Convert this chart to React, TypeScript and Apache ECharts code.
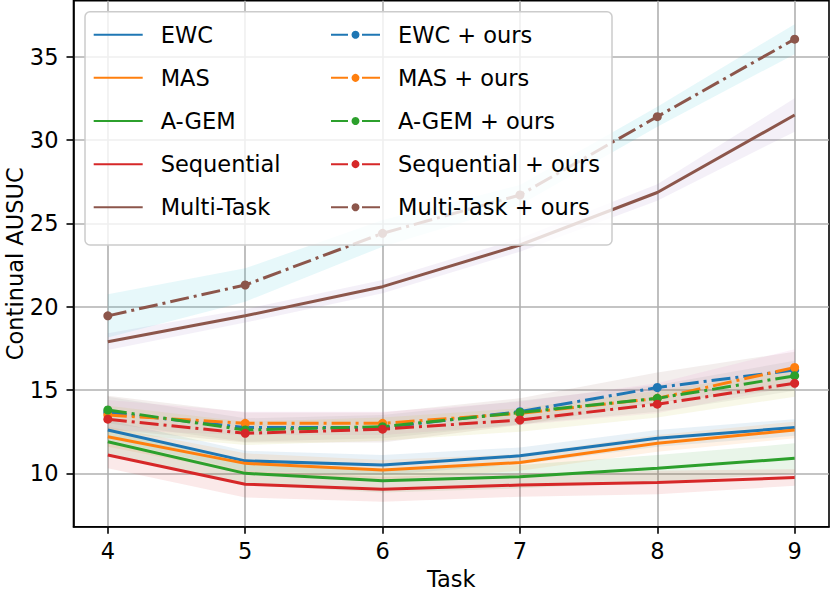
import React, { useEffect, useRef } from "react";
import * as echarts from "echarts";

const tasks = [4, 5, 6, 7, 8, 9];
const xTicks = [4, 5, 6, 7, 8, 9];
const yTicks = [10, 15, 20, 25, 30, 35];

const ewc = [12.6, 10.75, 10.5, 11.05, 12.1, 12.75];
const ewcStd = [0.6, 0.6, 0.6, 0.5, 0.5, 0.5];
const mas = [12.2, 10.6, 10.2, 10.65, 11.8, 12.6];
const masStd = [0.6, 0.6, 0.6, 0.5, 0.5, 0.5];
const agem = [11.9, 10.0, 9.55, 9.8, 10.3, 10.9];
const agemStd = [0.7, 0.7, 0.7, 0.7, 0.8, 0.9];
const seq = [11.1, 9.35, 9.05, 9.3, 9.45, 9.75];
const seqStd = [0.8, 0.8, 0.75, 0.7, 0.7, 0.5];
const multi = [17.9, 19.45, 21.2, 23.7, 26.85, 31.5];
const multiStd = [0.5, 0.4, 0.4, 0.4, 0.5, 1.0];
const ewcOurs = [13.65, 12.75, 12.75, 13.7, 15.15, 16.2];
const ewcOursStd = [1.0, 0.9, 0.9, 0.8, 0.9, 1.1];
const masOurs = [13.5, 13.0, 13.0, 13.6, 14.5, 16.35];
const masOursStd = [0.9, 0.7, 0.7, 0.7, 0.9, 1.1];
const agemOurs = [13.8, 12.6, 12.8, 13.65, 14.5, 15.85];
const agemOursStd = [0.8, 0.7, 0.7, 0.7, 0.8, 0.9];
const seqOurs = [13.25, 12.4, 12.65, 13.2, 14.15, 15.4];
const seqOursStd = [0.8, 0.7, 0.7, 0.7, 0.8, 0.8];
const multiOurs = [19.45, 21.3, 24.4, 26.7, 31.4, 36.05];
const multiOursStd = [1.3, 1.0, 0.8, 0.6, 0.6, 0.9];

const methods = [
  { name: "EWC", mean: ewc, std: ewcStd, color: "#1f77b4", fill: "#1f77b4", dashed: false },
  { name: "MAS", mean: mas, std: masStd, color: "#ff7f0e", fill: "#ff7f0e", dashed: false },
  { name: "A-GEM", mean: agem, std: agemStd, color: "#2ca02c", fill: "#2ca02c", dashed: false },
  { name: "Sequential", mean: seq, std: seqStd, color: "#d62728", fill: "#d62728", dashed: false },
  { name: "Multi-Task", mean: multi, std: multiStd, color: "#8c564b", fill: "#9467bd", dashed: false },
  { name: "EWC + ours", mean: ewcOurs, std: ewcOursStd, color: "#1f77b4", fill: "#8c564b", dashed: true },
  { name: "MAS + ours", mean: masOurs, std: masOursStd, color: "#ff7f0e", fill: "#e377c2", dashed: true },
  { name: "A-GEM + ours", mean: agemOurs, std: agemOursStd, color: "#2ca02c", fill: "#7f7f7f", dashed: true },
  { name: "Sequential + ours", mean: seqOurs, std: seqOursStd, color: "#d62728", fill: "#bcbd22", dashed: true },
  { name: "Multi-Task + ours", mean: multiOurs, std: multiOursStd, color: "#8c564b", fill: "#17becf", dashed: true },
];

const FONT = "DejaVu Sans";
const FS = 22.5;

export default function App() {
  const ref = useRef<HTMLDivElement>(null);
  useEffect(() => {
    if (!ref.current) return;
    const chart = echarts.init(ref.current, null, { renderer: "svg" });
    const bandSeries = methods.map((m, k) => {
      const lo = tasks.map((t, i) => m.mean[i] - m.std[i]);
      const hi = tasks.map((t, i) => m.mean[i] + m.std[i]);
      return {
        name: "_band" + k,
        type: "custom",
        silent: true,
        z: 1,
        data: tasks.map((t, i) => [t, lo[i], hi[i]]),
        encode: { x: 0, y: [1, 2] },
        renderItem: (params: any, api: any) => {
          if (params.dataIndex !== 0) return null;
          const pts: number[][] = [];
          for (let i = 0; i < tasks.length; i++) pts.push(api.coord([tasks[i], hi[i]]));
          for (let i = tasks.length - 1; i >= 0; i--) pts.push(api.coord([tasks[i], lo[i]]));
          return {
            type: "polygon",
            shape: { points: pts },
            style: { fill: m.fill, opacity: 0.1, stroke: null },
          };
        },
      };
    });
    const lineSeries = methods.map((m) => ({
      name: m.name,
      type: "line",
      data: tasks.map((t, i) => [t, m.mean[i]]),
      symbol: m.dashed ? "circle" : "none",
      symbolSize: 9,
      showSymbol: m.dashed,
      itemStyle: { color: m.color },
      lineStyle: { color: m.color, width: 3, type: m.dashed ? [19, 5, 3, 5] : "solid" },
      z: 3,
    }));
    const legendItem = (m: any) =>
      m.dashed
        ? { name: m.name, lineStyle: { type: [17, 14, 18, 14] } }
        : { name: m.name, itemStyle: { opacity: 0 } };
    const legendBase = {
      orient: "vertical",
      top: 21.7,
      padding: 0,
      itemWidth: 49,
      itemHeight: 10,
      itemGap: 17.15,
      z: 20,
      selectedMode: false,
      textStyle: {
        fontFamily: FONT,
        fontSize: FS,
        color: "#000",
        lineHeight: 26,
        padding: [0, 0, 0, 13],
      },
    };
    chart.setOption({
      animation: false,
      textStyle: { fontFamily: FONT },
      grid: {
        left: 73.5,
        right: 1,
        top: 0.8,
        bottom: 66.3,
        outerBoundsMode: "none",
        containLabel: false,
        show: true,
        borderColor: "#000",
        borderWidth: 1.6,
        backgroundColor: "transparent",
      },
      xAxis: {
        type: "value",
        min: 3.75,
        max: 9.25,
        name: "Task",
        nameLocation: "middle",
        nameGap: 39,
        nameTextStyle: { fontFamily: FONT, fontSize: FS, color: "#000" },
        axisLine: { lineStyle: { color: "#000", width: 1.6 } },
        axisTick: { customValues: xTicks, length: 7, lineStyle: { color: "#000", width: 1.6 } },
        axisLabel: { customValues: xTicks, fontFamily: FONT, fontSize: FS, color: "#000", margin: 13 },
        splitLine: { show: true, lineStyle: { color: "#b0b0b0", width: 1.6 } },
      },
      yAxis: {
        type: "value",
        min: 6.8,
        max: 38.35,
        name: "Continual AUSUC",
        nameLocation: "middle",
        nameGap: 47,
        nameMoveOverlap: false,
        nameTextStyle: { fontFamily: FONT, fontSize: FS, color: "#000" },
        axisLine: { show: true, lineStyle: { color: "#000", width: 1.6 } },
        axisTick: { show: true, customValues: yTicks, length: 7, lineStyle: { color: "#000", width: 1.6 } },
        axisLabel: { customValues: yTicks, fontFamily: FONT, fontSize: FS, color: "#000", margin: 15 },
        splitLine: { show: true, lineStyle: { color: "#b0b0b0", width: 1.6 } },
      },
      legend: [
        { ...legendBase, left: 92.7, data: methods.slice(0, 5).map(legendItem) },
        { ...legendBase, left: 330, data: methods.slice(5).map(legendItem) },
      ],
      graphic: [
        {
          type: "rect",
          z: 15,
          shape: { x: 85, y: 11.7, width: 527, height: 233.3, r: 5 },
          style: { fill: "rgba(255,255,255,0.8)", stroke: "#cccccc", lineWidth: 1.5 },
          silent: true,
        },
      ],
      series: [...bandSeries, ...lineSeries],
    });
    return () => chart.dispose();
  }, []);
  return (
    <div
      ref={ref}
      style={{ position: "absolute", left: 0, top: 0, width: 830, height: 593 }}
    />
  );
}
